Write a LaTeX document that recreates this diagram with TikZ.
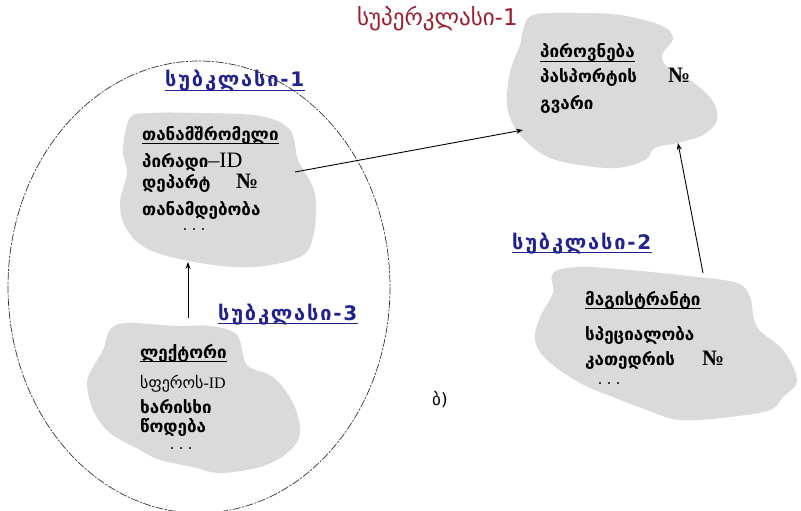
\documentclass[tikz,border=0pt]{standalone}
\usepackage{fontspec}
\setmainfont{Liberation Serif}
\newfontfamily\geo{DejaVu Sans}
\usetikzlibrary{arrows.meta}

\definecolor{cloudgray}{HTML}{DADADA}
\definecolor{titlered}{HTML}{9B1C2C}
\definecolor{labelblue}{HTML}{22228F}

% Mtavruli capitals where the font has them, plain Mkhedruli otherwise
\newcommand\clsword{\iffontchar\font"1CA1 ᲡᲣᲑᲙᲚᲐᲡᲘ\else სუბკლასი\fi}

\tikzset{
  blob/.style={fill=cloudgray, draw=none},
  attr/.style={anchor=base west, inner sep=0pt, font=\geo\bfseries\fontsize{17}{17}\selectfont},
  smallattr/.style={anchor=base west, inner sep=0pt, font=\geo\fontsize{16}{16}\selectfont},
  numsign/.style={anchor=base west, inner sep=0pt, font=\bfseries\fontsize{22}{22}\selectfont},
  dots/.style={anchor=base west, inner sep=0pt, font=\bfseries\fontsize{12}{12}\selectfont},
  clslabel/.style={anchor=base west, inner sep=0pt, text=labelblue,
    font=\geo\bfseries\fontsize{20}{20}\selectfont\addfontfeature{LetterSpace=9}},
  uline/.style={line width=0.9pt},
  bluline/.style={line width=1pt, draw=labelblue},
  link/.style={line width=0.9pt, -{Stealth[length=7pt,width=5pt]}},
  scope line/.style={draw=black!80, line width=0.7pt, dash pattern=on 8pt off 1.5pt on 2pt off 1.5pt},
}

\begin{document}
\begin{tikzpicture}[x=1pt,y=-1pt]
\useasboundingbox (0,0) rectangle (801,511);

% enclosing scope of the first subclass
\draw[scope line] (199,287) ellipse [x radius=191, y radius=226];

% superclass title
\node[anchor=base west, inner sep=0pt, text=titlered, font=\geo\fontsize{23}{23}\selectfont] (title) at (357,26) {სუპერკლასი-1};

% grey entity clouds
\fill[blob] plot[smooth cycle, tension=0.6] coordinates {
  (533,15) (575,13) (620,15) (660,25) (673,38) (662,55) (668,68) (690,80) (712,100) (717,120) (703,135) (677,143) (655,148) (645,160) (617,168) (580,165) (550,158) (530,145) (515,128) (507,105) (510,72) (520,45) (523,30)};
\fill[blob] plot[smooth cycle, tension=0.6] coordinates {
  (130,118) (150,113) (200,113) (260,116) (290,130) (298,160) (312,185) (316,205) (313,237) (300,257) (253,267) (200,263) (150,250) (127,230) (120,203) (127,173) (123,150)};
\fill[blob] plot[smooth cycle, tension=0.6] coordinates {
  (110,330) (127,323) (177,326) (210,326) (237,335) (247,365) (273,377) (293,403) (300,433) (287,453) (260,467) (220,473) (193,467) (160,460) (140,450) (110,433) (93,410) (87,383) (93,367) (103,350)};
\fill[blob] plot[smooth cycle, tension=0.6] coordinates {
  (553,273) (580,267) (630,270) (697,277) (737,283) (750,297) (757,327) (783,350) (797,380) (783,397) (770,410) (730,417) (680,420) (647,410) (613,397) (580,383) (547,360) (535,340) (540,317) (553,293)};

% connector end points on the cloud outlines
\coordinate (empOut) at (295,172);
\coordinate (persIn) at (523,130);
\coordinate (lecOut) at (188,318);
\coordinate (empIn) at (188,262);
\coordinate (magOut) at (703,273);
\coordinate (persIn2) at (678,143);

% superclass: person
\node[attr] (p1) at (540,58) {პიროვნება};
\draw[uline] ([yshift=-3pt]p1.base west) -- ([yshift=-3pt]p1.base east);
\node[attr] (p2) at (540,83) {პასპორტის};
\node[numsign] (p2n) at (668,83) {№};
\node[attr] (p3) at (540,110) {გვარი};

% subclass 1: employee
\node[clslabel] (c1) at (165,87) {\clsword{}-1};
\draw[bluline] ([yshift=-3.5pt]c1.base west) -- ([yshift=-3.5pt]c1.base east);
\node[attr] (e1) at (142,140) {თანამშრომელი};
\draw[uline] ([yshift=-3pt]e1.base west) -- ([yshift=-3pt]e1.base east);
\node[attr] (e2) at (142,167) {პირადი{\rmfamily\mdseries\fontsize{22}{22}\selectfont –ID}};
\node[attr] (e3) at (142,188) {დეპარტ};
\node[numsign] (e3n) at (236,188) {№};
\node[attr] (e4) at (142,215) {თანამდებობა};
\node[dots] (e5) at (183,233) {·\, ·\, ·};

% subclass 3: lecturer
\node[clslabel] (c3) at (218,320) {\clsword{}-3};
\draw[bluline] ([yshift=-3.5pt]c3.base west) -- ([yshift=-3.5pt]c3.base east);
\node[attr] (l1) at (140,358) {ლექტორი};
\draw[uline] ([yshift=-3pt]l1.base west) -- ([yshift=-3pt]l1.base east);
\node[smallattr] (l2) at (140,388) {სფეროს{\rmfamily\fontsize{16}{16}\selectfont -ID}};
\node[attr] (l3) at (140,413) {ხარისხი};
\node[attr] (l4) at (140,432) {წოდება};
\node[dots] (l5) at (170,452) {·\, ·\, ·};

% subclass 2: master student
\node[clslabel] (c2) at (512,249) {\clsword{}-2};
\draw[bluline] ([yshift=-3.5pt]c2.base west) -- ([yshift=-3.5pt]c2.base east);
\node[attr] (m1) at (585,305) {მაგისტრანტი};
\draw[uline] ([yshift=-3pt]m1.base west) -- ([yshift=-3pt]m1.base east);
\node[attr] (m2) at (585,340) {სპეციალობა};
\node[attr] (m3) at (585,365) {კათედრის};
\node[numsign] (m3n) at (702,365) {№};
\node[dots] (m4) at (598,387) {·\, ·\, ·};

% inheritance links
\draw[link] (empOut) -- (persIn);
\draw[link] (lecOut) -- (empIn);
\draw[link] (magOut) -- (persIn2);

% figure tag
\node[anchor=base west, inner sep=0pt, font=\geo\fontsize{17}{17}\selectfont] (tag) at (432,405) {ბ)};
\end{tikzpicture}
\end{document}
